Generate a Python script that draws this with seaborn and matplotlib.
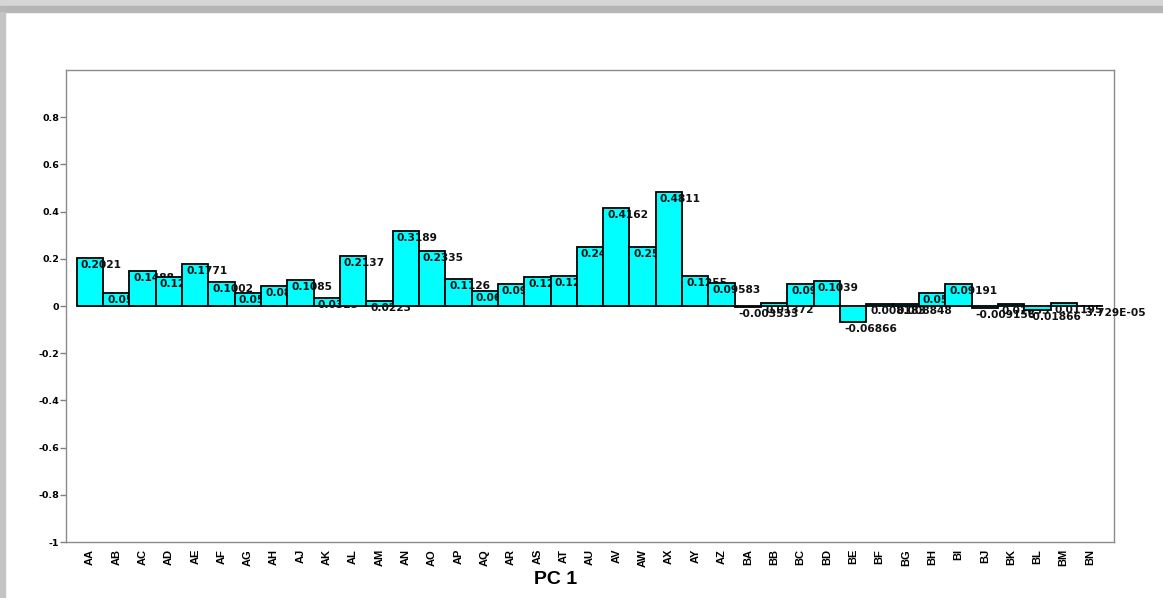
import matplotlib
matplotlib.use("Agg")
import matplotlib.pyplot as plt
import seaborn as sns
import pandas as pd
from matplotlib.patches import Rectangle

categories = ['AA', 'AB', 'AC', 'AD', 'AE', 'AF', 'AG', 'AH', 'AJ', 'AK', 'AL', 'AM',
              'AN', 'AO', 'AP', 'AQ', 'AR', 'AS', 'AT', 'AU', 'AV', 'AW', 'AX', 'AY',
              'AZ', 'BA', 'BB', 'BC', 'BD', 'BE', 'BF', 'BG', 'BH', 'BI', 'BJ', 'BK',
              'BL', 'BM', 'BN']
loadings = [0.2021, 0.0566, 0.1488, 0.1235, 0.1771, 0.1002, 0.0541, 0.0852, 0.1085,
            0.0325, 0.2137, 0.0223, 0.3189, 0.2335, 0.1126, 0.0655, 0.0953, 0.1228,
            0.1275, 0.2489, 0.4162, 0.2512, 0.4811, 0.1255, 0.09583, -0.003533,
            0.01372, 0.0934, 0.1039, -0.06866, 0.008183, 0.008848, 0.0551, 0.09191,
            -0.009156, 0.01035, -0.01866, 0.01195, -3.729e-05]
y_ticks = [-1, -0.8, -0.6, -0.4, -0.2, 0, 0.2, 0.4, 0.6, 0.8]
y_tick_labels = ['-1', '-0.8', '-0.6', '-0.4', '-0.2', '0', '0.2', '0.4', '0.6', '0.8']
x_title = 'PC 1'

sns.set_style('white')
plt.rcParams['font.family'] = ['DejaVu Sans']
plt.rcParams['text.color'] = 'black'
plt.rcParams['xtick.color'] = 'black'
plt.rcParams['ytick.color'] = 'black'

df = pd.DataFrame({'var': categories, 'val': loadings})

fig = plt.figure(figsize=(11.63, 5.98), dpi=100)
ax = fig.add_axes([66 / 1163, 1 - 542 / 598, (1114 - 66) / 1163, (542 - 70) / 598])

sns.barplot(data=df, x='var', y='val', order=categories, color='#00ffff',
            saturation=1, width=1.0, edgecolor='black', linewidth=1.3, ax=ax)

for i, (p, v) in enumerate(zip(ax.patches, loadings)):
    p.set_zorder(2 + 2 * i)
    p.set_facecolor('#00ffff')
    x0 = p.get_x()
    ax.annotate('%.4G' % v, xy=(x0, v), xytext=(4, -2), textcoords='offset pixels',
                ha='left', va='top', fontsize=7.7, fontweight='bold',
                color='#111111', zorder=3 + 2 * i, annotation_clip=False)

ax.set_xlim(-0.91, len(categories) - 1 + 0.91)
ax.set_ylim(-1, 1)
ax.set_yticks(y_ticks)
ax.set_yticklabels(y_tick_labels, fontsize=6.8, fontweight='bold', color='black')
ax.tick_params(axis='y', left=True, length=4, width=1, color='#808080',
               labelcolor='black', pad=1)
ax.tick_params(axis='x', bottom=False, length=0, pad=5, labelcolor='black')
for lab in ax.get_xticklabels():
    lab.set_rotation(90)
    lab.set_fontsize(8)
    lab.set_fontweight('bold')
    lab.set_family('Liberation Sans')
ax.set_xlabel('')
ax.set_ylabel('')
for s in ax.spines.values():
    s.set_color('#8c8c8c')
    s.set_linewidth(1.0)

fig.text(556 / 1163, 1 - 580 / 598, x_title, ha='center', va='center',
         fontsize=14, fontweight='bold', family='Liberation Sans', color='black')

# window-style border
fig.patches.append(Rectangle((0, 1 - 6 / 598), 1, 6 / 598, transform=fig.transFigure,
                             color='#d6d6d6', zorder=0))
fig.patches.append(Rectangle((0, 1 - 12 / 598), 1, 6 / 598, transform=fig.transFigure,
                             color='#b6b6b6', zorder=0))
fig.patches.append(Rectangle((0, 0), 5 / 1163, 1 - 12 / 598, transform=fig.transFigure,
                             color='#c4c4c4', zorder=0))

fig.savefig('out.png', dpi=100)
